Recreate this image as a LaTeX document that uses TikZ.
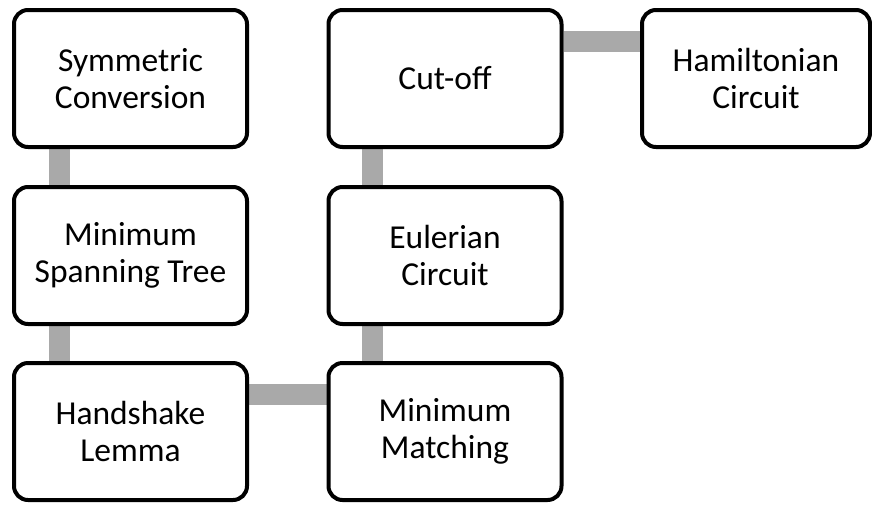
\documentclass[tikz,border=0pt]{standalone}
\usepackage{fontspec}
\setmainfont{Carlito}
\usetikzlibrary{backgrounds}
\definecolor{linkgray}{HTML}{A9A9A9}
\tikzset{
  stage/.style={draw=black, line width=4pt, rounded corners=14pt, fill=white,
    minimum width=233pt, minimum height=137pt, inner sep=0pt, align=center,
    font=\fontsize{33.5}{37}\selectfont},
  link/.style={draw=linkgray, line width=21pt}
}
\begin{document}
\begin{tikzpicture}[x=1pt,y=-1pt]
\useasboundingbox (0,0) rectangle (872,504);
% left column
\node[stage] (sym) at (130.5,78.5) {Symmetric\\Conversion};
\node[stage] (mst) at (130.5,255.5) {Minimum\\Spanning Tree};
\node[stage] (hand) at (130.5,431.5) {Handshake\\Lemma};
% middle column
\node[stage] (cut) at (445,78.5) {Cut-off};
\node[stage] (euler) at (445,255.5) {Eulerian\\Circuit};
\node[stage] (match) at (445,431.5) {Minimum\\Matching};
% right column
\node[stage, minimum width=228pt] (ham) at (756,78.5) {Hamiltonian\\Circuit};
% connecting bars, behind the boxes
\begin{scope}[on background layer]
  \draw[link] ([xshift=47pt]sym.south west) -- ([xshift=47pt]mst.north west);
  \draw[link] ([xshift=47pt]mst.south west) -- ([xshift=47pt]hand.north west);
  \draw[link] ([yshift=-33pt]hand.north east) -- ([yshift=-33pt]match.north west);
  \draw[link] ([xshift=46pt]match.north west) -- ([xshift=46pt]euler.south west);
  \draw[link] ([xshift=46pt]euler.north west) -- ([xshift=46pt]cut.south west);
  \draw[link] ([yshift=-33pt]cut.north east) -- ([yshift=-33pt]ham.north west);
\end{scope}
\end{tikzpicture}
\end{document}
